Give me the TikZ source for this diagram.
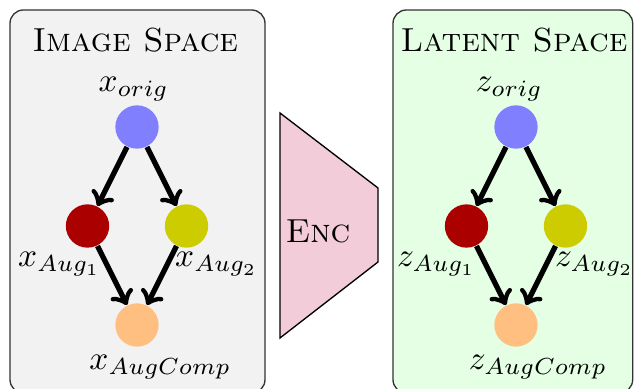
\documentclass[tikz,border=0pt]{standalone}
\usepackage{amsmath, amssymb}
\usepackage{tikz}
\usetikzlibrary{positioning, arrows.meta}
\usepackage{xcolor}

\definecolor{augred}{RGB}{170,0,0}
\definecolor{augyellow}{RGB}{204,204,0}

\begin{document}
\begin{tikzpicture}[
    x=1pt, y=1pt,
    on grid,
    node distance=29.7pt and 14.85pt,
    point/.style={circle, minimum size=13pt, inner sep=0pt},
    spacebox/.style={draw=black!80, rounded corners=4pt},
    flow/.style={-to, line width=1.6pt},
    every label/.style={inner sep=2pt}
]
    \useasboundingbox (0,0) rectangle (190.2,-116.7);

    % Space boxes
    \draw[spacebox, fill=black!5] (3,-3) rectangle (79.5,-117.9);
    \draw[spacebox, fill=green!10] (117.9,-3) rectangle (189.8,-117.9);
    \node[anchor=base] (imgtitle) at (40.6,-15.6) {\textsc{Image Space}};
    \node[anchor=base] (lattitle) at (154.2,-15.6) {\textsc{Latent Space}};

    % Encoder
    \draw[fill=purple!20, draw=black] (84,-33.9) -- (113.4,-56.4) -- (113.4,-78.6) -- (84,-101.4) -- cycle;
    \node (enc) at (95.4,-69.3) {\textsc{Enc}};

    % Image space nodes
    \node[point, fill=blue!50, label={[xshift=-1pt, label distance=-1pt]above:$x_{orig}$}] (xorig) at (41.1,-38.1) {};
    \node[point, fill=augred, below left=of xorig, label={[xshift=-8.4pt, label distance=-1pt]below:$x_{Aug_1}$}] (xaug1) {};
    \node[point, fill=augyellow, below right=of xorig, label={[xshift=9pt, label distance=-1pt]below:$x_{Aug_2}$}] (xaug2) {};
    \node[point, fill=orange!50, below right=of xaug1, label={[xshift=7pt]below:$x_{AugComp}$}] (xcomp) {};

    % Latent space nodes
    \node[point, fill=blue!50, label={[xshift=-2pt, label distance=-1pt]above:$z_{orig}$}] (zorig) at (154.8,-38.1) {};
    \node[point, fill=augred, below left=of zorig, label={[xshift=-9pt, label distance=-1pt]below:$z_{Aug_1}$}] (zaug1) {};
    \node[point, fill=augyellow, below right=of zorig, label={[xshift=8.7pt, label distance=-1pt]below:$z_{Aug_2}$}] (zaug2) {};
    \node[point, fill=orange!50, below right=of zaug1, label={[xshift=6.6pt]below:$z_{AugComp}$}] (zcomp) {};

    % Augmentation flows
    \draw[flow] (xorig) -- (xaug1);
    \draw[flow] (xorig) -- (xaug2);
    \draw[flow] (xaug1) -- (xcomp);
    \draw[flow] (xaug2) -- (xcomp);
    \draw[flow] (zorig) -- (zaug1);
    \draw[flow] (zorig) -- (zaug2);
    \draw[flow] (zaug1) -- (zcomp);
    \draw[flow] (zaug2) -- (zcomp);
\end{tikzpicture}
\end{document}
